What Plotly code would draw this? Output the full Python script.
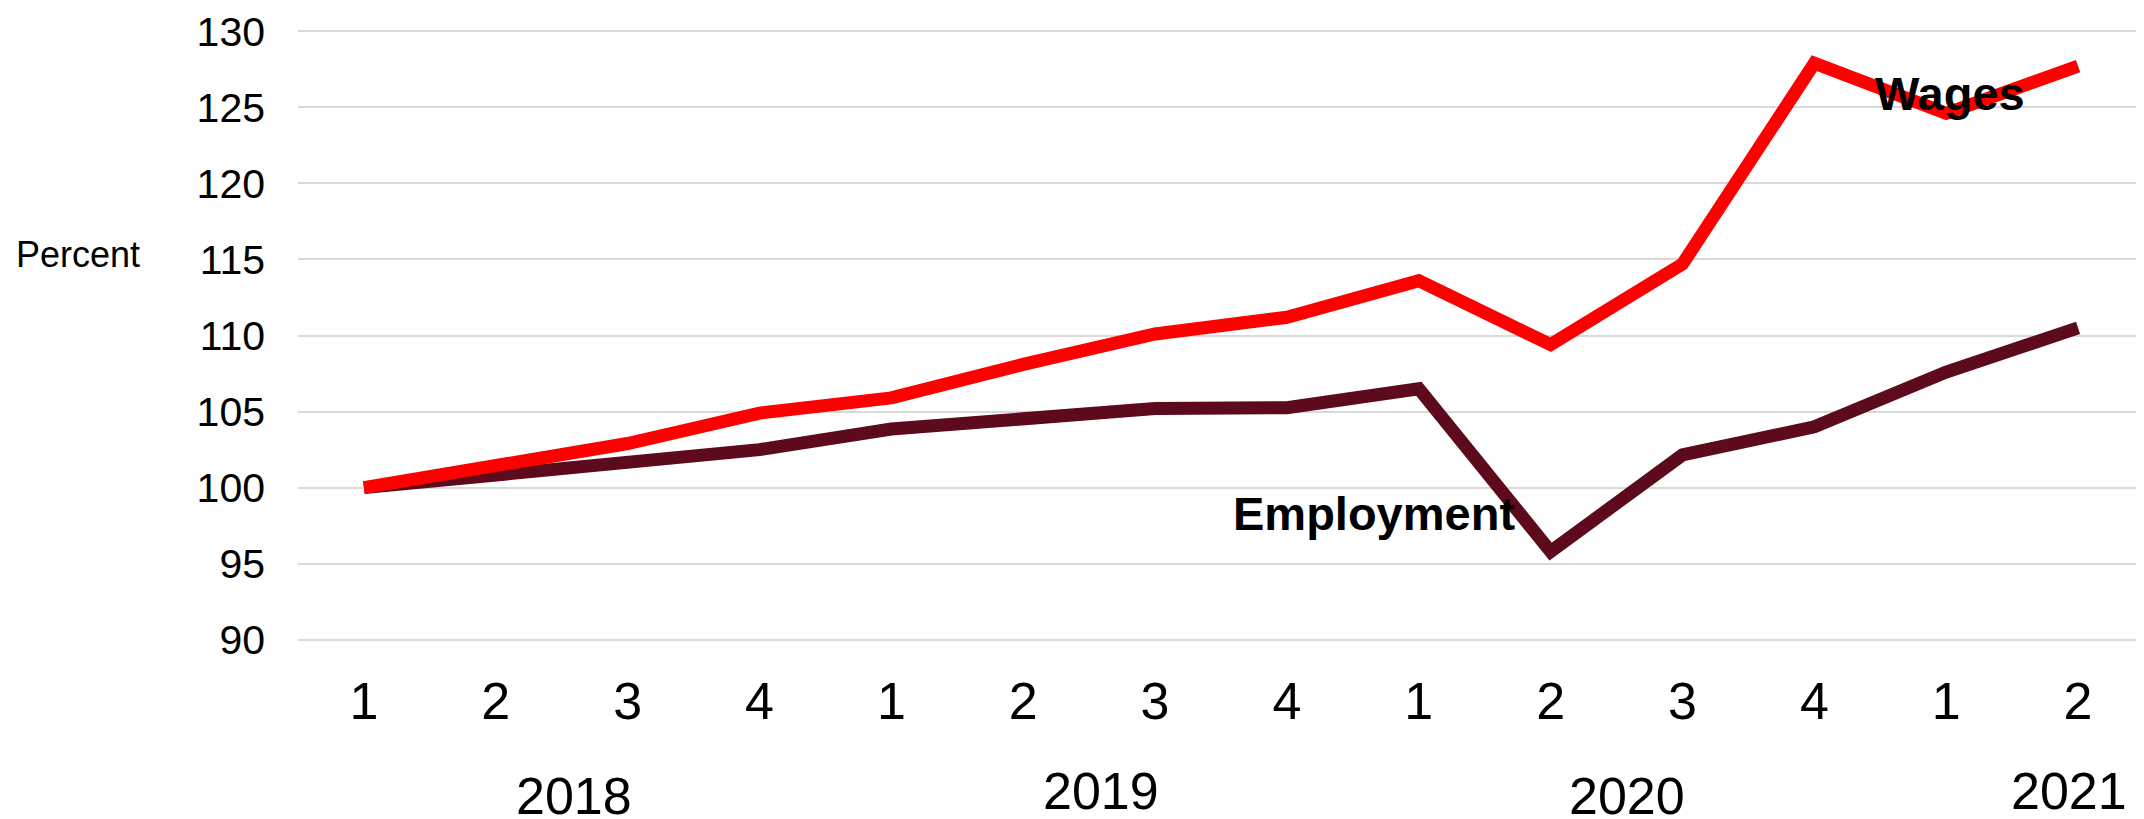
import plotly.graph_objects as go

quarters = ["1", "2", "3", "4", "1", "2", "3", "4", "1", "2", "3", "4", "1", "2"]
years = ["2018", "2019", "2020", "2021"]
year_pos = [1.59, 5.59, 9.58, 12.93]
year_y = [-0.221, -0.213, -0.221, -0.213]

wages = [100, 101.5, 102.9, 104.9, 105.9, 108.1, 110.1, 111.2, 113.6, 109.4, 114.7, 127.9, 124.6, 127.7]
employment = [100, 100.8, 101.7, 102.5, 103.85, 104.5, 105.2, 105.25, 106.5, 95.8, 102.15, 104.0, 107.6, 110.5]

x = list(range(len(quarters)))
FONT = "Liberation Sans, Arial, sans-serif"

# page body has an 8px margin, so the figure is placed at (8, 8)
W, H = 2136, 811
ML, MT, MB = 290, 7.5, 163.5
plot_w = W - ML
plot_h = H - MT - MB

fig = go.Figure()
fig.add_trace(go.Scatter(x=x, y=employment, mode="lines", name="Employment",
                         line=dict(color="#5C0A1C", width=13)))
fig.add_trace(go.Scatter(x=x, y=wages, mode="lines", name="Wages",
                         line=dict(color="#FF0000", width=13)))

fig.update_layout(
    width=W, height=H,
    margin=dict(l=ML, r=0, t=MT, b=MB, pad=0),
    paper_bgcolor="white", plot_bgcolor="white",
    showlegend=False,
    font=dict(family=FONT, color="black"),
)
fig.update_xaxes(
    range=[-0.5, len(quarters) - 0.5],
    tickmode="array", tickvals=x, ticktext=quarters,
    tickfont=dict(size=52, family=FONT, color="black"),
    showgrid=False, zeroline=False, showline=False, ticks="", ticklabelstandoff=11,
)
fig.update_yaxes(
    range=[89, 131], tick0=90, dtick=5,
    tickfont=dict(size=41, family=FONT, color="black"),
    showgrid=True, gridcolor="#D9D9D9", gridwidth=2,
    zeroline=False, showline=False, ticks="", ticklabelstandoff=32,
)

for yr, px, py in zip(years, year_pos, year_y):
    fig.add_annotation(x=px, y=py, xref="x", yref="paper", text=yr, showarrow=False,
                       font=dict(size=52, family=FONT, color="black"),
                       xanchor="center", yanchor="middle")

fig.add_annotation(x=12.03, y=125.9, xref="x", yref="y", text="<b>Wages</b>", showarrow=False,
                   font=dict(size=47, family=FONT, color="black"), xanchor="center", yanchor="middle")
fig.add_annotation(x=7.66, y=98.3, xref="x", yref="y", text="<b>Employment</b>", showarrow=False,
                   font=dict(size=47, family=FONT, color="black"), xanchor="center", yanchor="middle")
fig.add_annotation(x=(6 - ML) / plot_w, y=1 - (246 - MT) / plot_h, xref="paper", yref="paper",
                   text="Percent", showarrow=False,
                   font=dict(size=36, family=FONT, color="black"), xanchor="left", yanchor="middle")

fig.write_html("out.html")
